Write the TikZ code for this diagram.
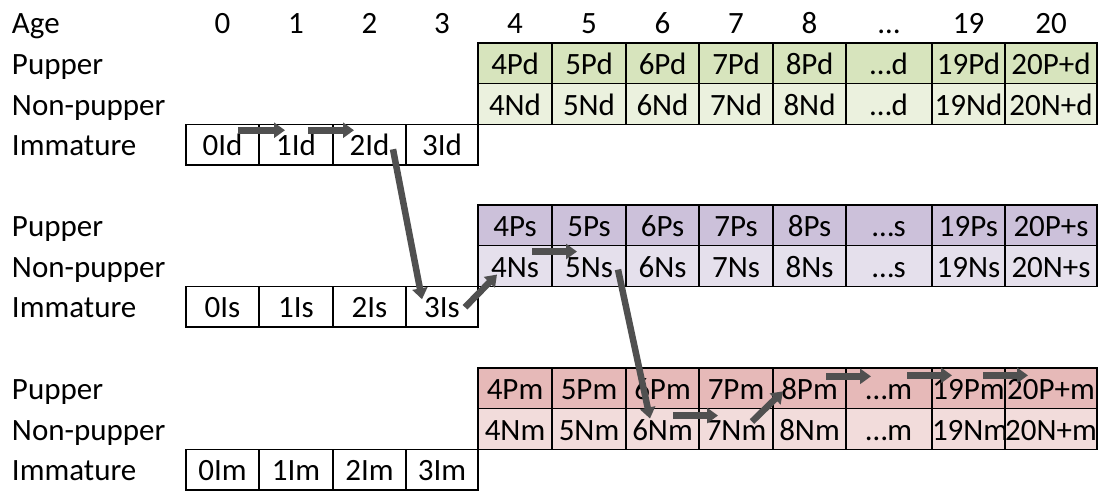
\documentclass[tikz,border=0pt]{standalone}
\usepackage{fontspec}
\setmainfont{Carlito}
\usetikzlibrary{arrows.meta,calc}
\definecolor{dP}{RGB}{215,228,189}
\definecolor{dN}{RGB}{235,241,222}
\definecolor{sP}{RGB}{204,193,218}
\definecolor{sN}{RGB}{229,224,236}
\definecolor{mP}{RGB}{230,185,184}
\definecolor{mN}{RGB}{242,220,219}
\definecolor{arrowgray}{RGB}{80,80,80}
\begin{document}
\begin{tikzpicture}[x=1pt,y=-1pt,
  txt/.style={inner sep=0pt, outer sep=0pt, text height=25pt, text depth=3pt,
              font=\fontsize{31}{37}\selectfont},
  rowlabel/.style={txt, anchor=west},
  cell/.style={txt, draw=black, line width=1.4pt, anchor=north west,
               minimum height=40.7pt},
  flow/.style={draw=arrowgray, line width=6.5pt,
               -{Triangle[length=11pt,width=15pt]}}]
\path[use as bounding box] (0,0) rectangle (1099,490);
\clip (0,0) rectangle (1099,490);

% header row
\node[rowlabel] (age) at (12,22) {Age};
\foreach \n/\x in {0/222.5, 1/296, 2/369.5, 3/442, 4/515, 5/589, 6/662.5,
                   7/736, 8/809.5, 19/968.5, 20/1051}
  \node[txt] (a\n) at (\x,22) {\n};
\node[txt] (adots) at (889,22) {…};

% three blocks of pupper / non-pupper / immature cells
\foreach \g/\t in {d/43, s/205, m/368} {
  \node[rowlabel] (LP\g) at (12,\t+20.35) {Pupper};
  \node[rowlabel] (LN\g) at (12,\t+61.05) {Non-pupper};
  \node[rowlabel] (LI\g) at (12,\t+101.75) {Immature};
  \foreach \k/\l/\r/\pt/\nt in {4/478/552/4P/4N, 5/552/626/5P/5N,
      6/626/699/6P/6N, 7/699/773/7P/7N, 8/773/846/8P/8N, x/846/932/…/…,
      19/932/1005/19P/19N, 20/1005/1097/20P+/20N+} {
    \pgfmathsetmacro\w{\r-\l}
    \node[cell, fill=\g P, minimum width=\w pt] (P\g\k) at (\l,\t) {\pt\g};
    \node[cell, fill=\g N, minimum width=\w pt] (N\g\k) at (\l,\t+40.7) {\nt\g};
  }
  \foreach \k/\l/\r in {0/186/259, 1/259/333, 2/333/406, 3/406/478} {
    \pgfmathsetmacro\w{\r-\l}
    \node[cell, fill=white, minimum width=\w pt] (I\g\k) at (\l,\t+81.4) {\k I\g};
  }
}

% life-history transitions
\draw[flow] ($(Id0.center)+(15.5,-14.5)$) -- ($(Id1.center)+(-11,-14.5)$);
\draw[flow] ($(Id1.center)+(12,-14.5)$) -- ($(Id2.center)+(-15.5,-14.5)$);
\draw[flow] ($(Id2.center)+(23.5,4.5)$) -- ($(Is3.center)+(-20,-7.5)$);
\draw[flow] ($(Is3.center)+(23,0.5)$) -- ($(Ns4.center)+(-18,8.5)$);
\draw[flow] ($(Ns4.center)+(17,-14.5)$) -- ($(Ns5.center)+(-12,-14.5)$);
\draw[flow] ($(Ns5.center)+(29,3.5)$) -- ($(Nm6.center)+(-12.5,-10.5)$);
\draw[flow] ($(Nm6.center)+(10.5,-13.5)$) -- ($(Nm7.center)+(-18,-13.5)$);
\draw[flow] ($(Nm7.center)+(16,-7.5)$) -- ($(Pm8.center)+(-26.5,3)$);
\draw[flow] ($(Pm8.center)+(16.5,-12)$) -- ($(Pmx.center)+(-18,-12)$);
\draw[flow] ($(Pmx.center)+(18,-13)$) -- ($(Pm19.center)+(-16.5,-13)$);
\draw[flow] ($(Pm19.center)+(14.5,-13)$) -- ($(Pm20.center)+(-23,-13)$);
\end{tikzpicture}
\end{document}
